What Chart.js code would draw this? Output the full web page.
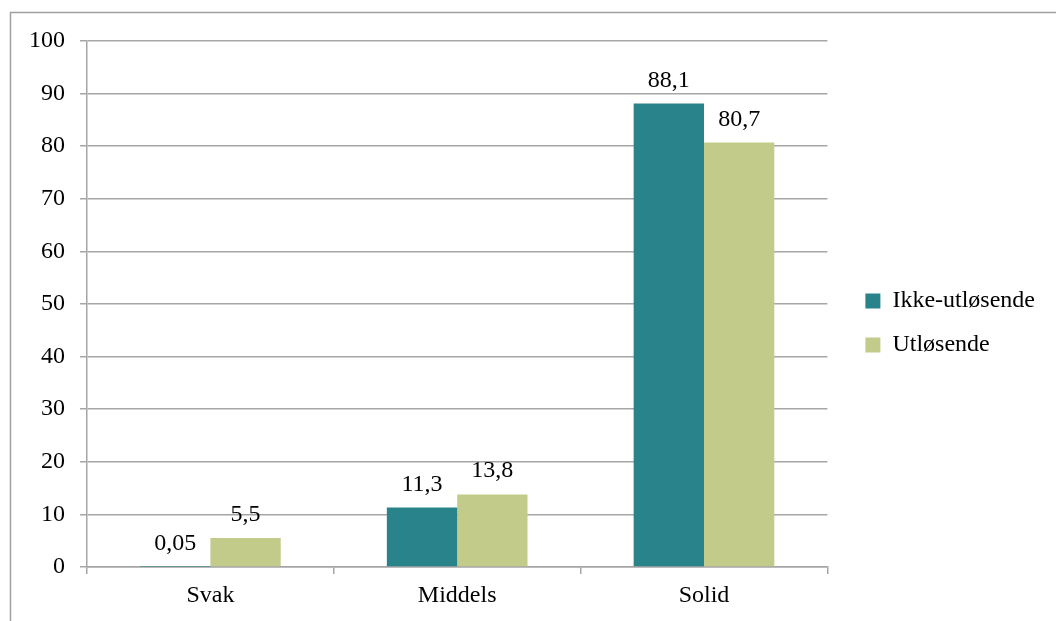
<!DOCTYPE html>
<html>
<head>
<meta charset="utf-8">
<script src="https://cdn.jsdelivr.net/npm/chart.js@4/dist/chart.umd.min.js"></script>
<style>
  html, body { margin: 0; padding: 0; background: #fff; }
  #wrap { width: 1056px; height: 621px; }
</style>
</head>
<body>
<div id="wrap"><canvas id="chart" width="1056" height="621"></canvas></div>
<script>
const categories = ['Svak', 'Middels', 'Solid'];
const ikkeUtlosende = [0.05, 11.3, 88.1];
const utlosende = [5.5, 13.8, 80.7];
const yTicks = [0, 10, 20, 30, 40, 50, 60, 70, 80, 90, 100];

const FONT = { family: '"Liberation Serif", "DejaVu Serif", serif', size: 24 };
const GRID = '#a6a6a6';

// thin frame round the chart (top and left edges show)
const framePlugin = {
  id: 'frame',
  beforeDraw(chart) {
    const ctx = chart.ctx;
    ctx.save();
    ctx.strokeStyle = '#a0a0a0';
    ctx.lineWidth = 1.5;
    ctx.beginPath();
    ctx.moveTo(10.5, chart.height);
    ctx.lineTo(10.5, 12.5);
    ctx.lineTo(chart.width, 12.5);
    ctx.stroke();
    ctx.restore();
  }
};

// leave a bit more air between plot and legend, and lift it slightly
const legendGap = {
  id: 'legendGap',
  afterLayout(chart) {
    if (chart.legend) {
      chart.legend.left += 18;
      chart.legend.right += 18;
      chart.legend.top -= 8;
      chart.legend.bottom -= 8;
    }
  }
};

// value above each bar, with decimal comma
const valueLabels = {
  id: 'valueLabels',
  afterDatasetsDraw(chart) {
    const ctx = chart.ctx;
    ctx.save();
    ctx.font = FONT.size + 'px ' + FONT.family;
    ctx.fillStyle = '#000';
    ctx.textAlign = 'center';
    ctx.textBaseline = 'alphabetic';
    chart.data.datasets.forEach((ds, i) => {
      chart.getDatasetMeta(i).data.forEach((bar, j) => {
        const txt = String(ds.data[j]).replace('.', ',');
        ctx.fillText(txt, bar.x, bar.y - 17);
      });
    });
    ctx.restore();
  }
};

new Chart(document.getElementById('chart'), {
  type: 'bar',
  data: {
    labels: categories,
    datasets: [
      {
        label: 'Ikke-utløsende',
        data: ikkeUtlosende,
        backgroundColor: '#29838a',
        categoryPercentage: 0.57,
        barPercentage: 1.0
      },
      {
        label: 'Utløsende',
        data: utlosende,
        backgroundColor: '#c3cb8a',
        categoryPercentage: 0.57,
        barPercentage: 1.0
      }
    ]
  },
  options: {
    responsive: false,
    animation: false,
    layout: { padding: { left: 10, top: 41, right: 29, bottom: 0 } },
    plugins: {
      legend: {
        position: 'right',
        labels: {
          font: FONT,
          color: '#000',
          boxWidth: 15,
          boxHeight: 15,
          padding: 20
        }
      },
      tooltip: { enabled: false }
    },
    scales: {
      x: {
        afterFit(scale) { scale.height = 54; },
        grid: {
          display: true,
          drawOnChartArea: false,
          drawTicks: true,
          tickLength: 7,
          color: GRID,
          lineWidth: 1.5
        },
        border: { color: GRID, width: 1.5 },
        ticks: { font: FONT, color: '#000', padding: 7 }
      },
      y: {
        min: 0,
        max: 100,
        afterBuildTicks(scale) {
          scale.ticks = yTicks.map(v => ({ value: v }));
        },
        afterFit(scale) { scale.width = 77; },
        grid: {
          color: GRID,
          lineWidth: 1.5,
          tickLength: 7
        },
        border: { color: GRID, width: 1.5 },
        ticks: { font: FONT, color: '#000', padding: 15 }
      }
    }
  },
  plugins: [framePlugin, legendGap, valueLabels]
});
</script>
</body>
</html>
